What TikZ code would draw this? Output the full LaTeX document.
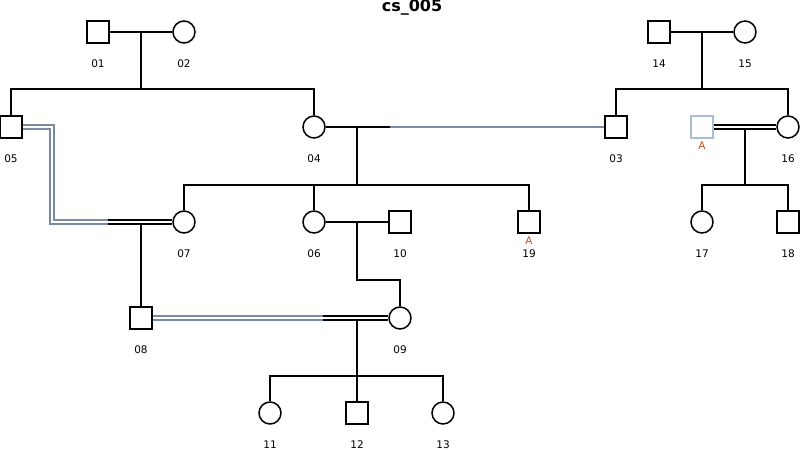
\documentclass[tikz,border=0pt]{standalone}
\usepackage{fontspec}
\setmainfont{DejaVu Sans}
\definecolor{slate}{RGB}{122,138,160}
\definecolor{paleblue}{RGB}{168,190,214}
\definecolor{rust}{RGB}{190,80,30}
\begin{document}
\begin{tikzpicture}[x=1pt,y=-1pt,
  person/.style={draw,line width=1.5pt,fill=white,inner sep=0pt,minimum size=22pt},
  male/.style={person,rectangle},
  female/.style={person,circle},
  ghost/.style={male,draw=paleblue},
  tag/.style={font=\fontsize{10.5}{12}\selectfont},
  atag/.style={tag,text=rust},
  link/.style={line width=1.5pt,line cap=butt},
  faint/.style={link,draw=slate},
  dbl/.style={line width=1.5pt,double=white,double distance=2.4pt,line join=miter},
  fdbl/.style={dbl,draw=slate}]
\useasboundingbox (0,0) rectangle (800,450);

% title
\node[font=\bfseries\fontsize{16}{18}\selectfont] (title) at (412,7.5) {cs\_005};

% generation I
\node[male]   (n01) at (98,32)  {};
\node[female] (n02) at (184,32) {};
\node[male]   (n14) at (659,32) {};
\node[female] (n15) at (745,32) {};

% generation II
\node[male]   (n05) at (11,127)  {};
\node[female] (n04) at (314,127) {};
\node[male]   (n03) at (616,127) {};
\node[ghost]  (nA)  at (702,127) {};
\node[female] (n16) at (788,127) {};

% generation III
\node[female] (n07) at (184,222) {};
\node[female] (n06) at (314,222) {};
\node[male]   (n10) at (400,222) {};
\node[male]   (n19) at (529,222) {};
\node[female] (n17) at (702,222) {};
\node[male]   (n18) at (788,222) {};

% generation IV
\node[male]   (n08) at (141,318) {};
\node[female] (n09) at (400,318) {};

% generation V
\node[female] (n11) at (270,413) {};
\node[male]   (n12) at (357,413) {};
\node[female] (n13) at (443,413) {};

% identifiers
\foreach \n/\x/\y in {01/98/64,02/184/64,14/659/64,15/745/64,
  05/11/159,04/314/159,03/616/159,16/788/159,
  07/184/254,06/314/254,10/400/254,19/529/254,17/702/254,18/788/254,
  08/141/350,09/400/350,11/270/445,12/357/445,13/443/445}
  \node[tag] (l\n) at (\x,\y) {\n};
\node[atag] (tA)  at (702,146) {A};
\node[atag] (t19) at (529,241) {A};

% junction points
\coordinate (m1)  at (141,32);
\coordinate (s1)  at (141,89);
\coordinate (m2)  at (702,32);
\coordinate (s2)  at (702,89);
\coordinate (m3)  at (357,127);
\coordinate (g3)  at (390,127);
\coordinate (s3)  at (357,185);
\coordinate (m4)  at (745,129.5);
\coordinate (s4)  at (745,185);
\coordinate (k5a) at (52,127);
\coordinate (k5b) at (52,222);
\coordinate (g5)  at (108,222);
\coordinate (m5)  at (141,224.5);
\coordinate (m6)  at (357,222);
\coordinate (k6)  at (357,280);
\coordinate (g7)  at (323,318);
\coordinate (m7)  at (357,320.5);
\coordinate (s7)  at (357,376);

% couples and descent
\draw[link] (n01) -- (n02);
\draw[link] (m1) -- (s1);
\draw[link] (s1) -| (n05);
\draw[link] (s1) -| (n04);

\draw[link] (n14) -- (n15);
\draw[link] (m2) -- (s2);
\draw[link] (s2) -| (n03);
\draw[link] (s2) -| (n16);

\draw[link] (n04) -- (g3);
\draw[faint] (g3) -- (n03);
\draw[link] (m3) -- (s3);
\draw[link] (s3) -| (n07);
\draw[link] (s3) -| (n06);
\draw[link] (s3) -| (n19);

\draw[dbl] (nA) -- (n16);
\draw[link] (m4) -- (s4);
\draw[link] (s4) -| (n17);
\draw[link] (s4) -| (n18);

\draw[fdbl] (n05.east) -- (k5a) -- (k5b) -- (g5);
\draw[dbl] (g5) -- (n07);
\draw[link] (m5) -- (n08);

\draw[link] (n06) -- (n10);
\draw[link] (m6) -- (k6) -| (n09);

\draw[fdbl] (n08) -- (g7);
\draw[dbl] (g7) -- (n09);
\draw[link] (m7) -- (s7);
\draw[link] (s7) -| (n11);
\draw[link] (s7) -- (n12);
\draw[link] (s7) -| (n13);
\end{tikzpicture}
\end{document}
